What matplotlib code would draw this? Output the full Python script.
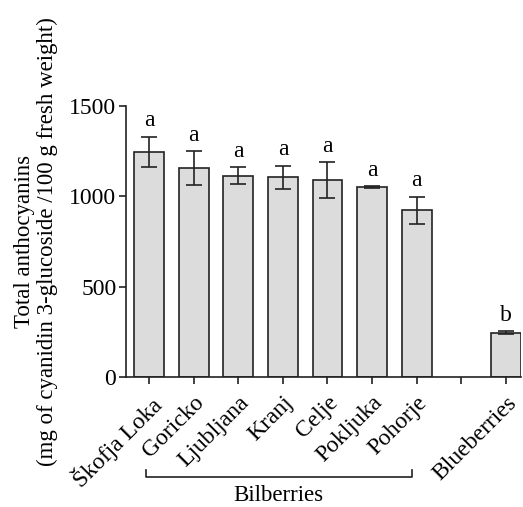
import matplotlib
matplotlib.use("Agg")
import matplotlib.pyplot as plt
import matplotlib.transforms as mtransforms

plt.rcParams['font.family'] = ['Liberation Serif', 'DejaVu Serif']

# data
labels = ['Škofja Loka', 'Goricko', 'Ljubljana', 'Kranj', 'Celje',
          'Pokljuka', 'Pohorje', '', 'Blueberries']
values = [1245, 1155, 1113, 1105, 1088, 1050, 922, 0, 245]
errors = [85, 93, 47, 63, 100, 5, 74, 0, 8]
letters = ['a', 'a', 'a', 'a', 'a', 'a', 'a', '', 'b']

fig = plt.figure(figsize=(5.23, 5.07), dpi=100)
ax = fig.add_axes([0.241, 0.2564, 0.755, 0.5346])

x = list(range(len(labels)))
shown = [i for i in x if labels[i]]
ax.bar([x[i] for i in shown], [values[i] for i in shown], width=0.67,
       color='#dcdcdc', edgecolor='#222222', linewidth=1.2)
ax.errorbar([x[i] for i in shown], [values[i] for i in shown],
            yerr=[errors[i] for i in shown], fmt='none', ecolor='#222222',
            elinewidth=1.2, capsize=5.5, capthick=1.2)

for i in shown:
    ax.annotate(letters[i], (x[i], values[i] + errors[i]),
                xytext=(0, 4), textcoords='offset points',
                ha='center', va='bottom', fontsize=17)

ax.set_xlim(-0.52, 8.34)
ax.set_ylim(0, 1500)
ax.set_yticks([0, 500, 1000, 1500])
ax.set_xticks(x)
ax.set_xticklabels(labels, rotation=45, ha='right', rotation_mode='anchor',
                   fontsize=17)
ax.tick_params(axis='both', labelsize=17, length=5, width=1.2,
               color='#222222', pad=2)
ax.tick_params(axis='x', pad=6)
for side in ['top', 'right']:
    ax.spines[side].set_visible(False)
for side in ['left', 'bottom']:
    ax.spines[side].set_linewidth(1.2)
    ax.spines[side].set_color('#222222')

ax.set_ylabel('Total anthocyanins\n(mg of cyanidin 3-glucoside /100 g fresh weight)',
              fontsize=16.5, linespacing=1.1)
ax.yaxis.set_label_coords(-0.172, 0.5)

# bracket under the bilberry group
trans = mtransforms.blended_transform_factory(ax.transData, ax.transAxes)
ax.plot([-0.07, -0.07, 5.89, 5.89], [-0.343, -0.369, -0.369, -0.343],
        color='#222222', lw=1.2, transform=trans, clip_on=False)
ax.text(2.9, -0.438, 'Bilberries', transform=trans, ha='center',
        va='center', fontsize=16.5)

fig.savefig('out.png', dpi=100)
